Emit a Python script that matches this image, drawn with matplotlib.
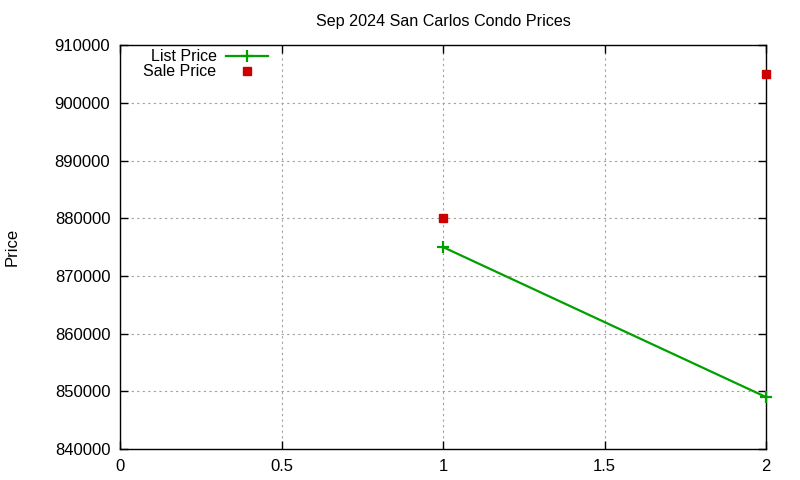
import matplotlib
matplotlib.use("Agg")
import matplotlib.pyplot as plt
from matplotlib.ticker import FormatStrFormatter

plt.rcParams['font.family'] = ['Liberation Sans', 'DejaVu Sans']

title = "Sep 2024 San Carlos Condo Prices"
list_x = [1, 2]
list_price = [875000, 849000]
sale_x = [1, 2]
sale_price = [880000, 905000]
xticks = [0, 0.5, 1, 1.5, 2]
yticks = [840000, 850000, 860000, 870000, 880000, 890000, 900000, 910000]

fig = plt.figure(figsize=(8, 4.8), dpi=100)
ax = fig.add_axes([0.15, 0.0646, 0.8075, 0.8414])

ax.plot(list_x, list_price, color='#00a000', lw=1.6, marker='+', ms=8, mew=1.6,
        label='List Price', clip_on=False, zorder=3)
ax.plot(sale_x, sale_price, ls='none', color='#cc0000', marker='s', ms=6,
        label='Sale Price', clip_on=False, zorder=3)

ax.set_xlim(0, 2)
ax.set_ylim(840000, 910000)
ax.set_xticks(xticks)
ax.set_yticks(yticks)
ax.xaxis.set_major_formatter(FormatStrFormatter('%g'))
ax.yaxis.set_major_formatter(FormatStrFormatter('%d'))
ax.tick_params(direction='in', top=True, right=True, length=6, width=1, labelsize=12, pad=7)
ax.grid(True, color='#a0a0a0', ls=(0, (2, 3)), lw=0.8)
ax.set_axisbelow(True)
for s in ax.spines.values():
    s.set_linewidth(1)
ax.set_title(title, fontsize=11.6, pad=14)
fig.text(12 / 800, 1 - 247 / 480, 'Price', rotation=90, fontsize=12,
         ha='center', va='center')

ax.legend(loc='upper left', bbox_to_anchor=(0.019, 1.017), frameon=False, markerfirst=False,
          fontsize=11.5, handlelength=2.6, handletextpad=0.6, labelspacing=0.0,
          borderaxespad=0.3)

fig.savefig('out.png', dpi=100)
